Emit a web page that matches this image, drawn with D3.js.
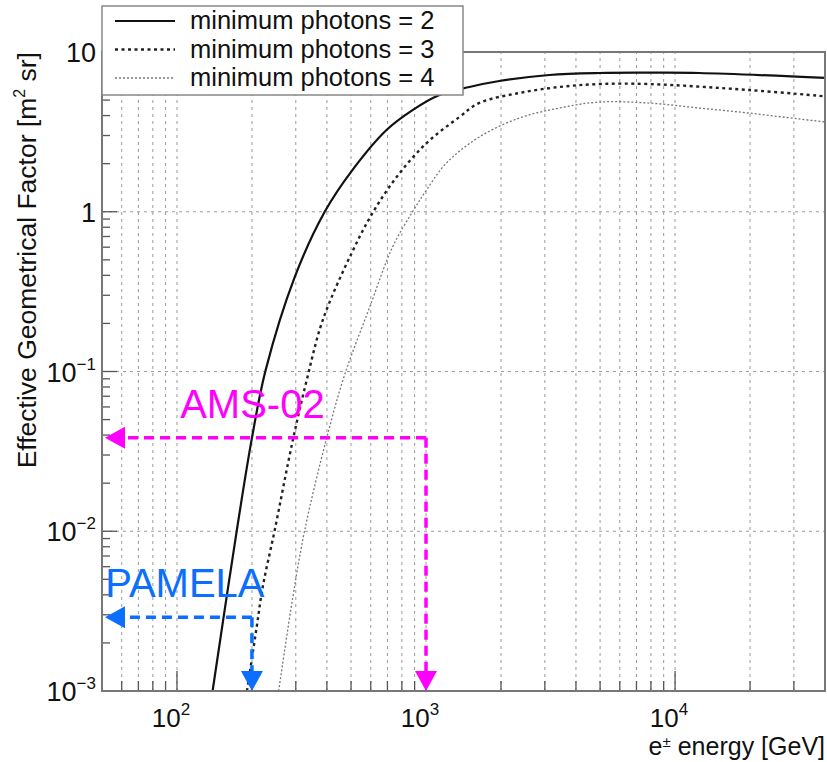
<!DOCTYPE html>
<html>
<head>
<meta charset="utf-8">
<script src="https://cdn.jsdelivr.net/npm/d3@7"></script>
<style>
  html, body { margin: 0; padding: 0; background: #fff; }
  svg { display: block; font-family: "Liberation Sans", Arial, Helvetica, sans-serif; }
</style>
</head>
<body>
<svg id="chart" width="827" height="762"></svg>
<script>
// ---------------- data ----------------
const seriesNames = ["minimum photons = 2", "minimum photons = 3", "minimum photons = 4"];

const energyN2 = [139, 174, 200, 227, 297, 392, 507, 694, 883, 1132, 1493, 1970, 3126, 4957, 8000, 12470, 40000];
const factorN2 = [0.001, 0.0102, 0.0384, 0.102, 0.39, 1.0, 1.83, 3.25, 4.33, 5.38, 6.04, 6.58, 7.18, 7.39, 7.42, 7.39, 6.88];

const energyN3 = [191, 209, 221, 247, 292, 332, 385, 503, 610, 762, 1005, 1362, 1638, 2370, 3428, 4960, 7866, 19800, 40000];
const factorN3 = [0.001, 0.00252, 0.00448, 0.0102, 0.0373, 0.0885, 0.21, 0.552, 0.982, 1.65, 2.69, 3.92, 4.80, 5.54, 6.04, 6.30, 6.30, 5.78, 5.28];

const energyN4 = [256, 292, 326, 399, 471, 594, 734, 883, 1005, 1208, 1638, 2370, 3428, 4960, 7866, 12470, 19800, 31400, 40000];
const factorN4 = [0.001, 0.00388, 0.0102, 0.0383, 0.095, 0.253, 0.602, 1.0, 1.37, 2.02, 2.94, 3.86, 4.46, 4.86, 4.79, 4.46, 4.15, 3.81, 3.65];

const xMajorTicks = [100, 1000, 10000];
const xTickExponents = ["2", "3", "4"];
const yMajorTicks = [0.001, 0.01, 0.1, 1, 10];
const yTickExponents = ["\u22123", "\u22122", "\u22121", "", ""];

// experiment annotations
const experimentNames = ["AMS-02", "PAMELA"];
const experimentEnergy = [1000, 200];
const experimentFactor = [0.0385, 0.0029];
const labelEnergy = [103, 51.5];
const labelFactor = [0.0512, 0.00388];
const arrowLeftEnergy = 51.4;

// ---------------- layout ----------------
const W = 827, H = 762;
const margin = { left: 102, top: 52, right: 2, bottom: 71 };
const svg = d3.select("#chart");
const x = d3.scaleLog().domain([50, 40000]).range([margin.left, W - margin.right]);
const y = d3.scaleLog().domain([1e-3, 10]).range([H - margin.bottom, margin.top]);
const x0 = x.range()[0], x1 = x.range()[1], yB = y.range()[0], yT = y.range()[1];

svg.append("defs").append("clipPath").attr("id", "plotclip")
  .append("rect").attr("x", x0).attr("y", yT).attr("width", x1 - x0).attr("height", yB - yT);

const xAllTicks = x.ticks(40).filter(v => v >= 50 && v <= 40000);
const yAllTicks = y.ticks(40);

// grid
const grid = svg.append("g").attr("stroke", "#9a9a9a").attr("stroke-width", 1).attr("stroke-dasharray", "3,4");
grid.selectAll("line.vx").data(xAllTicks.filter(v => v > 50 && v < 40000)).join("line")
  .attr("x1", d => x(d)).attr("x2", d => x(d)).attr("y1", yB).attr("y2", yT);
grid.selectAll("line.hy").data(yMajorTicks.filter(v => v > 1e-3 && v < 10)).join("line")
  .attr("x1", x0).attr("x2", x1).attr("y1", d => y(d)).attr("y2", d => y(d));

// ticks (inward)
const isMajor = v => Math.abs(Math.log10(v) - Math.round(Math.log10(v))) < 1e-6;
const tickG = svg.append("g").attr("stroke", "#555").attr("stroke-width", 1.3);
tickG.selectAll("line.tx").data(xAllTicks).join("line")
  .attr("x1", d => x(d)).attr("x2", d => x(d))
  .attr("y1", yB).attr("y2", d => yB - (isMajor(d) ? 20 : 10));
tickG.selectAll("line.ty").data(yAllTicks).join("line")
  .attr("y1", d => y(d)).attr("y2", d => y(d))
  .attr("x1", x0).attr("x2", d => x0 + (isMajor(d) ? 15 : 8));

// curves
const line = d3.line().x(d => x(d[0])).y(d => y(d[1])).curve(d3.curveCatmullRom.alpha(0.5));
const curveData = [
  d3.zip(energyN2, factorN2),
  d3.zip(energyN3, factorN3),
  d3.zip(energyN4, factorN4)
];
const curveStyles = [
  { stroke: "#111", width: 2.2, dash: null },
  { stroke: "#222", width: 2.4, dash: "3,3.5" },
  { stroke: "#777", width: 1.3, dash: "2,2" }
];
const curves = svg.append("g").attr("clip-path", "url(#plotclip)");
curveData.forEach((d, i) => {
  curves.append("path").datum(d).attr("d", line).attr("fill", "none")
    .attr("stroke", curveStyles[i].stroke).attr("stroke-width", curveStyles[i].width)
    .attr("stroke-dasharray", curveStyles[i].dash);
});

// frame
svg.append("rect").attr("x", x0).attr("y", yT).attr("width", x1 - x0).attr("height", yB - yT)
  .attr("fill", "none").attr("stroke", "#777").attr("stroke-width", 2);

// experiment arrows
const expColors = ["#ff00ff", "#0a6eff"];
const ann = svg.append("g");
experimentNames.forEach((name, i) => {
  const c = expColors[i];
  const cx = x(experimentEnergy[i]), cy = y(experimentFactor[i]);
  const lx = x(arrowLeftEnergy), by = y(1e-3);
  const head = 20, half = 11;
  ann.append("line").attr("x1", cx).attr("y1", cy).attr("x2", lx + head).attr("y2", cy)
    .attr("stroke", c).attr("stroke-width", 3.5).attr("stroke-dasharray", "10,6");
  ann.append("line").attr("x1", cx).attr("y1", cy).attr("x2", cx).attr("y2", by - head)
    .attr("stroke", c).attr("stroke-width", 3.5).attr("stroke-dasharray", "10,6");
  ann.append("path").attr("fill", c)
    .attr("d", `M${lx},${cy}L${lx + head},${cy - half}L${lx + head},${cy + half}Z`);
  ann.append("path").attr("fill", c)
    .attr("d", `M${cx},${by}L${cx - half},${by - head}L${cx + half},${by - head}Z`);
  ann.append("text").attr("x", x(labelEnergy[i])).attr("y", y(labelFactor[i]))
    .attr("fill", c).attr("font-size", 40).text(name);
});

// x tick labels
const xl = svg.append("g").attr("fill", "#111");
xMajorTicks.forEach((v, i) => {
  const t = xl.append("text").attr("x", x(v) - 6).attr("y", 727).attr("font-size", 26).attr("text-anchor", "middle");
  t.append("tspan").text("10");
  t.append("tspan").attr("font-size", 17).attr("dy", -12).text(xTickExponents[i]);
});
// y tick labels
yMajorTicks.forEach((v, i) => {
  const t = xl.append("text").attr("x", 96).attr("y", y(v) + 10).attr("font-size", 27).attr("text-anchor", "end");
  if (v === 1) { t.text("1"); return; }
  t.append("tspan").text("10");
  if (yTickExponents[i]) t.append("tspan").attr("font-size", 17).attr("dy", -12).text(yTickExponents[i]);
});

// axis titles
const xt = svg.append("text").attr("x", x1).attr("y", 755).attr("text-anchor", "end")
  .attr("font-size", 25).attr("fill", "#111");
xt.append("tspan").text("e");
xt.append("tspan").attr("font-size", 15).attr("dy", -8).text("\u00b1");
xt.append("tspan").attr("dy", 8).text(" energy [GeV]");

const yt = svg.append("text").attr("transform", `translate(36,${yT}) rotate(-90)`)
  .attr("text-anchor", "end").attr("font-size", 26.5).attr("fill", "#111");
yt.append("tspan").text("Effective Geometrical Factor [m");
yt.append("tspan").attr("font-size", 16).attr("dy", -11).text("2");
yt.append("tspan").attr("dy", 11).text(" sr]");

// legend
const lg = svg.append("g");
lg.append("rect").attr("x", 102).attr("y", 6).attr("width", 361).attr("height", 89)
  .attr("fill", "#fff").attr("stroke", "#888").attr("stroke-width", 1.5);
seriesNames.forEach((name, i) => {
  const ry = 21 + i * 28.5;
  lg.append("line").attr("x1", 115).attr("x2", 175).attr("y1", ry).attr("y2", ry)
    .attr("stroke", curveStyles[i].stroke).attr("stroke-width", curveStyles[i].width)
    .attr("stroke-dasharray", curveStyles[i].dash);
  lg.append("text").attr("x", 190).attr("y", ry + 8).attr("font-size", 25.5).attr("fill", "#111").text(name);
});
</script>
</body>
</html>
